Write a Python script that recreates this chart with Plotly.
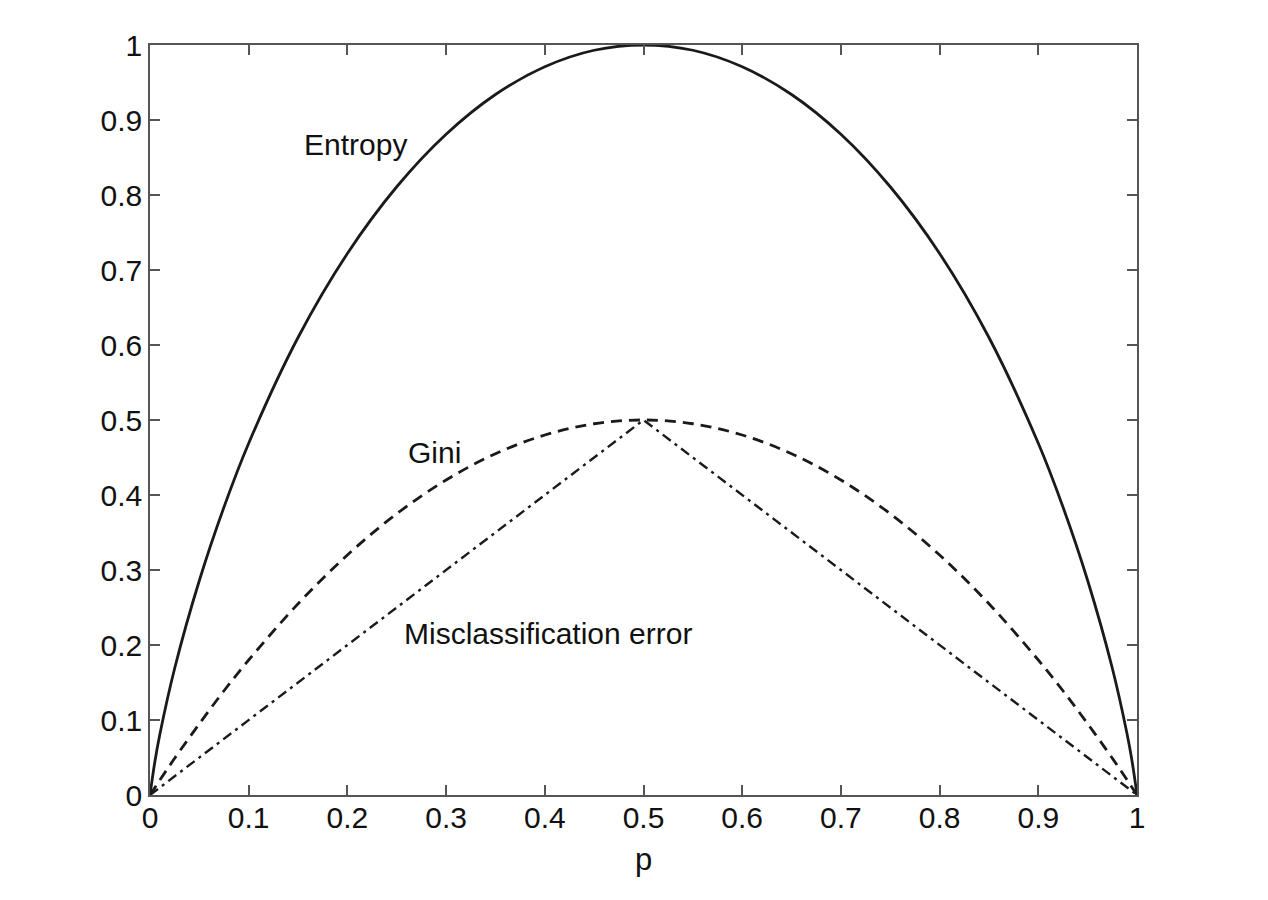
import plotly.graph_objects as go

# p values (read along the x axis)
p_vals = [0, 0.005, 0.01, 0.025, 0.05, 0.075, 0.1, 0.15, 0.2, 0.25, 0.3, 0.35, 0.4, 0.45, 0.5,
          0.55, 0.6, 0.65, 0.7, 0.75, 0.8, 0.85, 0.9, 0.925, 0.95, 0.975, 0.99, 0.995, 1]
entropy_vals = [0, 0.045, 0.081, 0.169, 0.286, 0.384, 0.469, 0.610, 0.722, 0.811, 0.881, 0.934, 0.971, 0.993, 1.0,
                0.993, 0.971, 0.934, 0.881, 0.811, 0.722, 0.610, 0.469, 0.384, 0.286, 0.169, 0.081, 0.045, 0]
gini_vals = [0, 0.010, 0.020, 0.049, 0.095, 0.139, 0.180, 0.255, 0.320, 0.375, 0.420, 0.455, 0.480, 0.495, 0.5,
             0.495, 0.480, 0.455, 0.420, 0.375, 0.320, 0.255, 0.180, 0.139, 0.095, 0.049, 0.020, 0.010, 0]
mis_p = [0, 0.5, 1]
mis_vals = [0, 0.5, 0]

tick_vals = [0, 0.1, 0.2, 0.3, 0.4, 0.5, 0.6, 0.7, 0.8, 0.9, 1]
tick_text = ["0", "0.1", "0.2", "0.3", "0.4", "0.5", "0.6", "0.7", "0.8", "0.9", "1"]

labels = ["Entropy", "Gini", "Misclassification error"]
label_x = [0.208, 0.288, 0.403]
label_y = [0.868, 0.457, 0.215]

FONT = "Liberation Sans, Arial"

fig = go.Figure()
fig.add_trace(go.Scatter(x=p_vals, y=entropy_vals, mode="lines", line=dict(color="#1a1a1a", width=2.8, shape="spline", smoothing=1.0)))
fig.add_trace(go.Scatter(x=p_vals, y=gini_vals, mode="lines", line=dict(color="#1a1a1a", width=2.8, dash="11px,7px", shape="spline", smoothing=1.0)))
fig.add_trace(go.Scatter(x=mis_p, y=mis_vals, mode="lines", line=dict(color="#1a1a1a", width=2.4, dash="10px,5px,3px,5px")))

for t, x, y in zip(labels, label_x, label_y):
    fig.add_annotation(x=x, y=y, text=t, showarrow=False, font=dict(size=30, color="#111", family=FONT))

axis_common = dict(
    range=[0, 1], tickvals=tick_vals, ticktext=tick_text, ticks="inside", ticklen=10, tickwidth=1.5,
    tickcolor="#555", showline=True, linecolor="#555", linewidth=1.5, mirror="ticks",
    showgrid=False, zeroline=False, tickfont=dict(size=30, color="#111", family=FONT),
)
fig.update_xaxes(**axis_common, ticklabelstandoff=-5,
                 title=dict(text="p", font=dict(size=31, color="#111", family=FONT), standoff=16))
fig.update_yaxes(**axis_common)

fig.update_layout(
    width=1260, height=892, showlegend=False,
    paper_bgcolor="white", plot_bgcolor="white",
    margin=dict(l=142, r=131, t=37, b=105),
)
fig.write_html("out.html")
